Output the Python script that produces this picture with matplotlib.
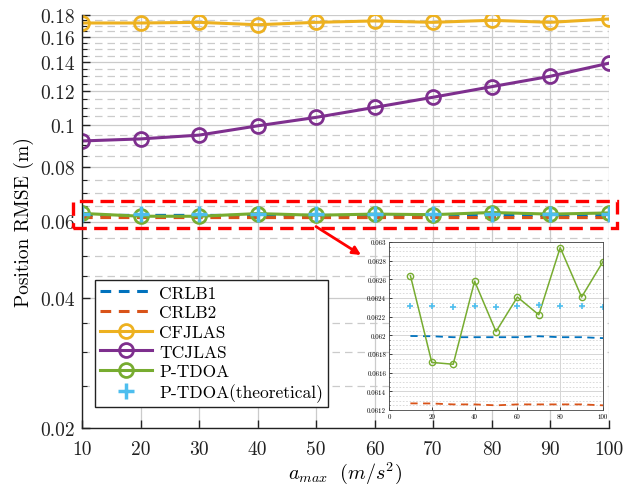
import numpy as np
import matplotlib
matplotlib.use("Agg")
import matplotlib.pyplot as plt
from matplotlib.ticker import FixedLocator, NullFormatter
from matplotlib.patches import Rectangle

plt.rcParams['font.family'] = ['cmr10', 'DejaVu Serif']
plt.rcParams['mathtext.fontset'] = 'cm'
plt.rcParams['axes.formatter.use_mathtext'] = True

# ---------------- data ----------------
a_max = [10, 20, 30, 40, 50, 60, 70, 80, 90, 100]
crlb1 = [0.061993, 0.06199, 0.06198, 0.06198, 0.06198, 0.06198, 0.06199, 0.06198, 0.06198, 0.06197]
crlb2 = [0.061271, 0.06127, 0.06126, 0.06126, 0.06125, 0.06126, 0.06126, 0.06126, 0.06126, 0.06125]
cfjlas = [0.1725, 0.1725, 0.1731, 0.1709, 0.1731, 0.1744, 0.1731, 0.1750, 0.1731, 0.1762]
tcjlas = [0.0921, 0.0931, 0.0950, 0.0998, 0.1044, 0.1101, 0.1162, 0.1229, 0.1299, 0.1392]
ptdoa = [0.06264, 0.06171, 0.06169, 0.06258, 0.06204, 0.06241, 0.06222, 0.06294, 0.06241, 0.06279]
ptdoa_theo = [0.06231, 0.06231, 0.06230, 0.06231, 0.06230, 0.06231, 0.06232, 0.06231, 0.06231, 0.06230]

labels = ['CRLB1', 'CRLB2', 'CFJLAS', 'TCJLAS', 'P-TDOA', 'P-TDOA(theoretical)']
y_major = [0.02, 0.04, 0.06, 0.08, 0.1, 0.12, 0.14, 0.16, 0.18]
y_major_labels = ['0.02', '0.04', '0.06', '0.08', '0.1', '0.12', '0.14', '0.16', '0.18']
x_ticks = [10, 20, 30, 40, 50, 60, 70, 80, 90, 100]
inset_xticks = [0, 20, 40, 60, 80, 100]
inset_yticks = [0.0612, 0.0614, 0.0616, 0.0618, 0.062, 0.0622, 0.0624, 0.0626, 0.0628, 0.063]
inset_ylabels = ['0.0612', '0.0614', '0.0616', '0.0618', '0.062', '0.0622', '0.0624', '0.0626', '0.0628', '0.063']

C_BLUE = '#0072BD'
C_ORANGE = '#D95319'
C_YELLOW = '#EDB120'
C_PURPLE = '#7E2F8E'
C_GREEN = '#77AC30'
C_CYAN = '#4DBEEE'
GRID = '#cbcbcb'

fig = plt.figure(figsize=(6.34, 4.85), dpi=100)
W, H = 634, 485
ax = fig.add_axes([82 / W, (H - 429) / H, 526.5 / W, 413 / H])

ax.set_yscale('log')
ax.plot(a_max, crlb1, color=C_BLUE, lw=2.2, ls=(0, (3.5, 2.5)), label=labels[0])
ax.plot(a_max, crlb2, color=C_ORANGE, lw=2.2, ls=(0, (3.5, 2.5)), label=labels[1])
ax.plot(a_max, cfjlas, color=C_YELLOW, lw=2.2, marker='o', ms=10, mfc='none', mew=2, label=labels[2])
ax.plot(a_max, tcjlas, color=C_PURPLE, lw=2.2, marker='o', ms=10, mfc='none', mew=2, label=labels[3])
ax.plot(a_max, ptdoa, color=C_GREEN, lw=2.2, marker='o', ms=10, mfc='none', mew=2, label=labels[4])
ax.plot(a_max, ptdoa_theo, color=C_CYAN, lw=0, marker='+', ms=11, mew=2.5, label=labels[5])

ax.set_xlim(10, 100)
ax.set_ylim(0.02, 0.18)
ax.set_xticks(x_ticks)
ax.set_xticklabels([str(v) for v in x_ticks])
ax.yaxis.set_major_locator(FixedLocator(y_major))
ax.set_yticklabels(y_major_labels)
minor_vals = [v for v in np.round(np.arange(0.025, 0.18, 0.005), 4) if not any(abs(v - m) < 1e-9 for m in y_major)]
ax.yaxis.set_minor_locator(FixedLocator(minor_vals))
ax.yaxis.set_minor_formatter(NullFormatter())
ax.xaxis.set_minor_locator(FixedLocator([]))

ax.grid(True, which='major', color=GRID, lw=0.9, ls='-')
ax.grid(True, which='minor', axis='y', color=GRID, lw=0.9, ls=(0, (6, 4)))
ax.set_axisbelow(True)

for s in ['top', 'right']:
    ax.spines[s].set_visible(False)
for s in ['left', 'bottom']:
    ax.spines[s].set_linewidth(1.0)
    ax.spines[s].set_color('#222222')
ax.tick_params(axis='both', which='major', direction='in', length=6, width=1, labelsize=14, pad=5, colors='#222222')
ax.tick_params(axis='y', which='minor', direction='in', length=3.5, width=0.8, colors='#222222')
ax.tick_params(axis='x', which='major', pad=9)

ax.set_xlabel(r'$a_{max}\ \ (m/s^2)$', fontsize=14.5)
ax.xaxis.set_label_coords(0.5, -0.075)
ax.set_ylabel('Position RMSE (m)', fontsize=14)
ax.yaxis.set_label_coords(-0.092, 0.5)

# red dashed zoom box
rect = Rectangle((8.4, 0.0579), 101.5 - 8.4, 0.0670 - 0.0579, fill=False, ec='red',
                 lw=2.4, ls=(0, (4, 2.2)), clip_on=False, zorder=5)
ax.add_patch(rect)

ax.annotate('', xy=(361 / W, 1 - 256 / H), xycoords='figure fraction',
            xytext=(50, 0.0584), textcoords='data',
            arrowprops=dict(arrowstyle='-|>', color='red', lw=2, mutation_scale=12,
                            shrinkA=0, shrinkB=0),
            annotation_clip=False, zorder=6)

leg = ax.legend(loc='upper left', bbox_to_anchor=(95 / W, 1 - 281 / H),
                bbox_transform=fig.transFigure, fontsize=12.5, frameon=True, fancybox=False,
                framealpha=1, edgecolor='#222222', handlelength=3.0, handletextpad=0.4,
                labelspacing=0.25, borderpad=0.3, borderaxespad=0)
leg.get_frame().set_linewidth(1.0)

# ---------------- inset ----------------
axi = fig.add_axes([389 / W, (H - 411) / H, 214 / W, 168 / H])
axi.plot(a_max, crlb1, color=C_BLUE, lw=1.3, ls=(0, (4, 3)))
axi.plot(a_max, crlb2, color=C_ORANGE, lw=1.3, ls=(0, (4, 3)))
axi.plot(a_max, ptdoa, color=C_GREEN, lw=1.1, marker='o', ms=4.5, mfc='none', mew=1.0)
axi.plot(a_max, ptdoa_theo, color=C_CYAN, lw=0, marker='+', ms=5, mew=1.2)
axi.set_xlim(0, 100)
axi.set_ylim(0.0612, 0.063)
axi.set_xticks(inset_xticks)
axi.set_xticklabels([str(v) for v in inset_xticks])
axi.set_yticks(inset_yticks)
axi.set_yticklabels(inset_ylabels)
axi.yaxis.set_minor_locator(FixedLocator(list(np.arange(0.0612, 0.0630001, 0.00005))))
axi.yaxis.set_minor_formatter(NullFormatter())
axi.grid(True, which='major', color='#d5d5d5', lw=0.7, ls='-')
axi.grid(True, which='minor', axis='y', color='#d5d5d5', lw=0.6, ls=(0, (2, 2)))
axi.set_axisbelow(True)
axi.tick_params(axis='both', which='major', direction='in', length=2, width=0.5, labelsize=5, pad=2)
axi.tick_params(axis='y', which='minor', direction='in', length=1, width=0.4)
for s in axi.spines.values():
    s.set_linewidth(0.6)
    s.set_color('#444444')
axi.set_facecolor('white')

fig.savefig('out.png', dpi=100)
